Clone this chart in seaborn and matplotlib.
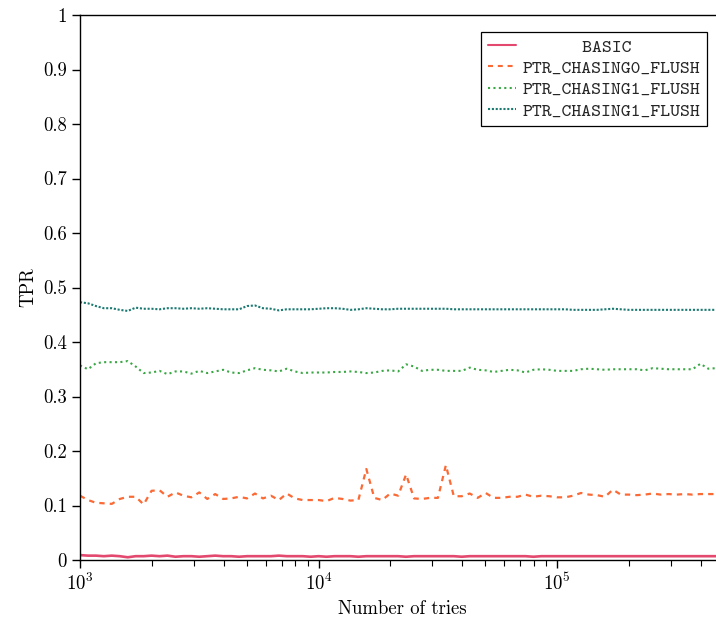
import matplotlib
matplotlib.use("Agg")
import matplotlib.pyplot as plt
import seaborn as sns
import pandas as pd

# Number of tries at which the true-positive rate was measured
tries = [
    1000, 1080, 1166, 1259, 1359, 1468, 1585, 1711, 1848, 1995,
    2154, 2326, 2512, 2712, 2929, 3162, 3415, 3687, 3981, 4299,
    4642, 5012, 5412, 5843, 6310, 6813, 7356, 7943, 8577, 9261,
    10000, 10798, 11659, 12589, 13594, 14678, 15849, 17113, 18478, 19953,
    21544, 23263, 25119, 27123, 29286, 31623, 34146, 36869, 39811, 42987,
    46416, 50119, 54117, 58434, 63096, 68129, 73564, 79433, 85770, 92612,
    100000, 107978, 116591, 125893, 135936, 146780, 158489, 171133, 184785, 199526,
    215443, 232631, 251189, 271227, 292864, 316228, 341455, 368695, 398107, 429866,
    464159,
]

tpr_basic = [
    0.009, 0.008, 0.008, 0.007, 0.008, 0.007, 0.005, 0.007, 0.007, 0.008,
    0.007, 0.008, 0.006, 0.007, 0.007, 0.006, 0.007, 0.008, 0.007, 0.007,
    0.006, 0.007, 0.007, 0.007, 0.007, 0.008, 0.007, 0.007, 0.007, 0.006,
    0.007, 0.006, 0.007, 0.007, 0.007, 0.006, 0.007, 0.007, 0.007, 0.007,
    0.007, 0.006, 0.007, 0.007, 0.007, 0.007, 0.007, 0.007, 0.006, 0.007,
    0.007, 0.007, 0.007, 0.007, 0.007, 0.007, 0.007, 0.006, 0.007, 0.007,
    0.007, 0.007, 0.007, 0.007, 0.007, 0.007, 0.007, 0.007, 0.007, 0.007,
    0.007, 0.007, 0.007, 0.007, 0.007, 0.007, 0.007, 0.007, 0.007, 0.007,
    0.007,
]

tpr_chasing0 = [
    0.118, 0.110, 0.105, 0.104, 0.103, 0.112, 0.116, 0.116, 0.102, 0.127,
    0.128, 0.116, 0.124, 0.118, 0.115, 0.124, 0.112, 0.121, 0.112, 0.113,
    0.116, 0.113, 0.122, 0.113, 0.118, 0.110, 0.122, 0.113, 0.110, 0.110,
    0.110, 0.108, 0.114, 0.112, 0.109, 0.110, 0.167, 0.114, 0.110, 0.122,
    0.118, 0.157, 0.113, 0.112, 0.114, 0.114, 0.174, 0.117, 0.117, 0.122,
    0.114, 0.123, 0.114, 0.114, 0.116, 0.116, 0.120, 0.116, 0.118, 0.117,
    0.115, 0.115, 0.118, 0.123, 0.120, 0.119, 0.116, 0.129, 0.120, 0.120,
    0.119, 0.120, 0.122, 0.120, 0.121, 0.120, 0.121, 0.120, 0.121, 0.121,
    0.121,
]

tpr_chasing1 = [
    0.357, 0.350, 0.361, 0.363, 0.363, 0.363, 0.365, 0.355, 0.343, 0.344,
    0.347, 0.341, 0.346, 0.346, 0.342, 0.347, 0.343, 0.346, 0.349, 0.344,
    0.343, 0.348, 0.352, 0.349, 0.348, 0.346, 0.351, 0.346, 0.343, 0.344,
    0.344, 0.344, 0.345, 0.345, 0.346, 0.345, 0.343, 0.344, 0.347, 0.348,
    0.346, 0.359, 0.355, 0.347, 0.349, 0.349, 0.347, 0.347, 0.347, 0.353,
    0.349, 0.348, 0.345, 0.347, 0.349, 0.348, 0.344, 0.349, 0.350, 0.349,
    0.347, 0.347, 0.347, 0.350, 0.351, 0.350, 0.349, 0.350, 0.350, 0.350,
    0.350, 0.348, 0.352, 0.351, 0.350, 0.350, 0.350, 0.350, 0.360, 0.351,
    0.352,
]

tpr_chasing1_b = [
    0.473, 0.471, 0.466, 0.462, 0.462, 0.459, 0.457, 0.463, 0.461, 0.461,
    0.460, 0.462, 0.462, 0.461, 0.462, 0.461, 0.462, 0.461, 0.460, 0.460,
    0.460, 0.466, 0.467, 0.462, 0.461, 0.458, 0.460, 0.460, 0.460, 0.460,
    0.461, 0.462, 0.462, 0.461, 0.459, 0.460, 0.462, 0.461, 0.460, 0.460,
    0.461, 0.461, 0.461, 0.461, 0.461, 0.461, 0.461, 0.460, 0.460, 0.460,
    0.460, 0.460, 0.460, 0.460, 0.460, 0.460, 0.460, 0.460, 0.460, 0.460,
    0.460, 0.460, 0.459, 0.459, 0.459, 0.459, 0.460, 0.461, 0.460, 0.459,
    0.459, 0.459, 0.459, 0.459, 0.459, 0.459, 0.459, 0.459, 0.459, 0.459,
    0.459,
]

series_labels = ["BASIC", "PTR_CHASING0_FLUSH", "PTR_CHASING1_FLUSH", "PTR_CHASING1_FLUSH"]
y_ticks = [0, 0.1, 0.2, 0.3, 0.4, 0.5, 0.6, 0.7, 0.8, 0.9, 1]
y_tick_labels = ["0", "0.1", "0.2", "0.3", "0.4", "0.5", "0.6", "0.7", "0.8", "0.9", "1"]

sns.set_theme(style="ticks")
plt.rcParams["font.family"] = ["cmr10", "DejaVu Serif"]
plt.rcParams["mathtext.fontset"] = "cm"
plt.rcParams["axes.formatter.use_mathtext"] = True
plt.rcParams["axes.unicode_minus"] = False

fig = plt.figure(figsize=(7.16, 6.21), dpi=100)
W, H = 716, 621
ax = fig.add_axes([80 / W, 61 / H, (724 - 80) / W, (560 - 15) / H])

df = pd.DataFrame({
    "tries": tries,
    "basic": tpr_basic,
    "c0": tpr_chasing0,
    "c1": tpr_chasing1,
    "c1b": tpr_chasing1_b,
})

styles = [
    ("basic", "#e3496f", "-", 1.9),
    ("c0", "#fb6a35", (0, (2.4, 2.3)), 1.6),
    ("c1", "#3aa745", (0, (1.0, 1.6)), 1.5),
    ("c1b", "#1a7a72", (0, (1.0, 0.85)), 1.5),
]
for (col, color, ls, lw), label in zip(styles, series_labels):
    sns.lineplot(data=df, x="tries", y=col, ax=ax, color=color,
                 linestyle=ls, linewidth=lw, label=label)

ax.set_xscale("log")
ax.set_xlim(1000, 500000)
ax.set_ylim(0, 1)
ax.set_yticks(y_ticks)
ax.set_yticklabels(y_tick_labels)

ax.tick_params(axis="both", which="major", direction="out", length=6,
               width=1, color="black", labelsize=13.5, labelcolor="black")
ax.tick_params(axis="x", which="minor", direction="out", length=4,
               width=0.8, color="black")
for side in ["left", "bottom", "top", "right"]:
    ax.spines[side].set_color("black")
    ax.spines[side].set_linewidth(1.0)

ax.set_xlabel("Number of tries", fontsize=13.5, color="black", labelpad=4)
ax.set_ylabel("TPR", fontsize=13.5, color="black", labelpad=4)

handles, _ = ax.get_legend_handles_labels()
legend_labels = ["      BASIC", "PTR_CHASING0_FLUSH", "PTR_CHASING1_FLUSH", "PTR_CHASING1_FLUSH"]
leg = ax.legend(handles, legend_labels, loc="upper right",
                bbox_to_anchor=(707 / W, 1 - 32 / H), bbox_transform=fig.transFigure,
                borderaxespad=0, frameon=True, fancybox=False, framealpha=1,
                edgecolor="black", handlelength=1.5, handletextpad=0.35,
                labelspacing=0.22, borderpad=0.35,
                prop={"family": ["cmtt10", "DejaVu Sans Mono"], "size": 13.5})
leg.get_frame().set_linewidth(0.9)
for line in leg.get_lines():
    line.set_linewidth(1.5)

fig.savefig("out.png", dpi=100)
